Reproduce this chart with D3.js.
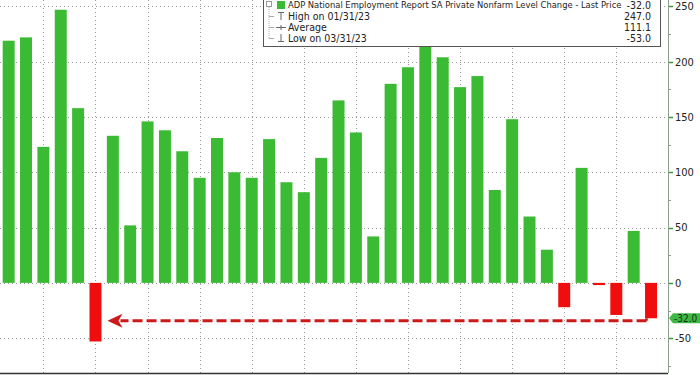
<!DOCTYPE html>
<html>
<head>
<meta charset="utf-8">
<script src="https://cdn.jsdelivr.net/npm/d3@7"></script>
<style>
  body { margin: 0; background: #fff; }
  svg { display: block; }
  text { font-family: "Liberation Sans Narrow", "DejaVu Sans Condensed", "Liberation Sans", sans-serif; }
</style>
</head>
<body>
<div id="chart"></div>
<script>
// monthly ADP private payroll change, thousands (Oct 2022 - Nov 2025)
var months = ["2022-10","2022-11","2022-12","2023-01","2023-02","2023-03","2023-04","2023-05","2023-06","2023-07",
  "2023-08","2023-09","2023-10","2023-11","2023-12","2024-01","2024-02","2024-03","2024-04","2024-05",
  "2024-06","2024-07","2024-08","2024-09","2024-10","2024-11","2024-12","2025-01","2025-02","2025-03",
  "2025-04","2025-05","2025-06","2025-07","2025-08","2025-09","2025-10","2025-11"];
var changes = [219, 222, 123, 247, 158, -53, 133, 52, 146, 138,
  119, 95, 131, 100, 95, 130, 91, 82, 113, 165,
  136, 42, 180, 195, 222, 204, 177, 187, 84, 148,
  60, 30, -22, 104, -2, -29, 47, -32];
var yTicks = [-50, 0, 50, 100, 150, 200, 250];
var legendRows = [
  {label: "ADP National Employment Report SA Private Nonfarm Level Change - Last Price", value: "-32.0"},
  {label: "High on 01/31/23", value: "247.0"},
  {label: "Average", value: "111.1"},
  {label: "Low on 03/31/23", value: "-53.0"}
];
var lastLabel = "-32.0";

var width = 700, height = 375;
var plotRight = 668, plotBottom = 373;

var svg = d3.select("#chart").append("svg")
  .attr("width", width)
  .attr("height", height);

var x = d3.scaleBand()
  .domain(months)
  .range([-2.7, 662.4])
  .padding(0.31);

var y = d3.scaleLinear()
  .domain([-81.5, 255.8])
  .range([plotBottom, 0]);

var green = "#3bba34", red = "#f00d0d";

// grid
var grid = svg.append("g").attr("class", "grid");
grid.selectAll("line.h")
  .data(yTicks)
  .enter().append("line")
  .attr("class", "h")
  .attr("x1", 0).attr("x2", plotRight)
  .attr("y1", function(d) { return Math.round(y(d)) + 0.5; })
  .attr("y2", function(d) { return Math.round(y(d)) + 0.5; })
  .attr("stroke", "#9a9a9a")
  .attr("stroke-dasharray", "1,3");

// quarter-end months get a vertical grid line
var quarterEnds = months.filter(function(m) { return +m.slice(5) % 3 === 0; });
grid.selectAll("line.v")
  .data(quarterEnds)
  .enter().append("line")
  .attr("class", "v")
  .attr("y1", 0).attr("y2", plotBottom)
  .attr("x1", function(d) { return Math.round(x(d) + x.bandwidth() / 2) + 0.5; })
  .attr("x2", function(d) { return Math.round(x(d) + x.bandwidth() / 2) + 0.5; })
  .attr("stroke", "#9a9a9a")
  .attr("stroke-dasharray", "1,3");

// bars
svg.append("g").selectAll("rect")
  .data(changes)
  .enter().append("rect")
  .attr("x", function(d, i) { return x(months[i]); })
  .attr("width", x.bandwidth())
  .attr("y", function(d) { return y(Math.max(0, d)); })
  .attr("height", function(d) { return Math.max(1.5, Math.abs(y(d) - y(0))); })
  .attr("fill", function(d) { return d < 0 ? red : green; });

// dashed arrow from latest print back to the prior low
var lastIdx = changes.length - 1;
var lowIdx = changes.indexOf(d3.min(changes));
var arrowY = y(changes[lastIdx]) + 2.5;
var arrowStart = x(months[lastIdx]) + 1.5;
var arrowTip = x(months[lowIdx]) + x.bandwidth() + 6;
svg.append("line")
  .attr("x1", arrowStart).attr("x2", arrowStart)
  .attr("y1", y(changes[lastIdx])).attr("y2", arrowY)
  .attr("stroke", "#cc1a1a").attr("stroke-width", 2.5);
svg.append("line")
  .attr("x1", arrowStart).attr("x2", arrowTip + 13)
  .attr("y1", arrowY).attr("y2", arrowY)
  .attr("stroke", "#cc1a1a")
  .attr("stroke-width", 3)
  .attr("stroke-dasharray", "10,4");
svg.append("path")
  .attr("d", "M" + arrowTip + "," + arrowY + " L" + (arrowTip + 15) + "," + (arrowY - 7) +
    " L" + (arrowTip + 11) + "," + arrowY + " L" + (arrowTip + 15) + "," + (arrowY + 7) + "Z")
  .attr("fill", "#cc1a1a");

// frame
svg.append("line")
  .attr("x1", 0).attr("x2", plotRight)
  .attr("y1", plotBottom + 0.5).attr("y2", plotBottom + 0.5)
  .attr("stroke", "#333").attr("stroke-width", 1.5);

// right axis
var axis = svg.append("g").attr("transform", "translate(" + plotRight + ",0)");
axis.append("line")
  .attr("x1", 0.5).attr("x2", 0.5).attr("y1", 0).attr("y2", plotBottom)
  .attr("stroke", "#8aa08a");
var minor = d3.range(-75, 260, 25).filter(function(v) { return v % 50 !== 0; });
axis.selectAll("line.minor")
  .data(minor)
  .enter().append("line")
  .attr("class", "minor")
  .attr("x1", 1).attr("x2", 3)
  .attr("y1", function(d) { return Math.round(y(d)) + 0.5; })
  .attr("y2", function(d) { return Math.round(y(d)) + 0.5; })
  .attr("stroke", "#999");
axis.selectAll("line.major")
  .data(yTicks)
  .enter().append("line")
  .attr("class", "major")
  .attr("x1", 1).attr("x2", 5)
  .attr("y1", function(d) { return Math.round(y(d)) + 0.5; })
  .attr("y2", function(d) { return Math.round(y(d)) + 0.5; })
  .attr("stroke", "#3a9a3a").attr("stroke-width", 1.5);
axis.selectAll("text")
  .data(yTicks)
  .enter().append("text")
  .attr("x", 7)
  .attr("y", function(d) { return y(d); })
  .attr("dy", "0.35em")
  .style("font-size", "11px")
  .style("fill", "#222")
  .text(function(d) { return d; });

// last price tag
var tagY = y(changes[lastIdx]);
svg.append("path")
  .attr("d", "M" + (plotRight + 1) + "," + tagY + " L" + (plotRight + 5) + "," + (tagY - 5) +
    " L" + width + "," + (tagY - 5) + " L" + width + "," + (tagY + 5) + " L" + (plotRight + 5) + "," + (tagY + 5) + "Z")
  .attr("fill", "#3fb845");
svg.append("text")
  .attr("x", plotRight + 6)
  .attr("y", tagY)
  .attr("dy", "0.36em")
  .style("font-size", "10px")
  .style("fill", "#173317")
  .text(lastLabel);

// legend
var lg = svg.append("g");
lg.append("rect")
  .attr("x", 263.5).attr("y", -5.5)
  .attr("width", 397).attr("height", 52)
  .attr("fill", "#fff")
  .attr("stroke", "#555");
var rowY = [5, 16, 27, 38];
// tree lines
lg.append("rect").attr("x", 266.5).attr("y", 1.5).attr("width", 5).attr("height", 5)
  .attr("fill", "#fff").attr("stroke", "#999");
lg.append("line").attr("x1", 269).attr("x2", 269).attr("y1", 7).attr("y2", rowY[3])
  .attr("stroke", "#aaa").attr("stroke-dasharray", "1,1");
lg.selectAll("line.branch")
  .data(rowY.slice(1))
  .enter().append("line")
  .attr("class", "branch")
  .attr("x1", 269).attr("x2", 274)
  .attr("y1", function(d) { return d + 0.5; }).attr("y2", function(d) { return d + 0.5; })
  .attr("stroke", "#aaa");
lg.append("rect").attr("x", 277).attr("y", 1).attr("width", 8).attr("height", 8).attr("fill", green);
// high / avg / low glyphs
lg.append("path").attr("d", "M278,12.5 H284 M281,12.5 V20")
  .attr("stroke", "#666").attr("fill", "none");
lg.append("path").attr("d", "M276,27.5 H286 M281,25 V30")
  .attr("stroke", "#666").attr("fill", "none");
lg.append("path").attr("d", "M281,34 V41.5 M278,41.5 H284")
  .attr("stroke", "#666").attr("fill", "none");

lg.selectAll("text.lab")
  .data(legendRows)
  .enter().append("text")
  .attr("class", "lab")
  .attr("x", 288)
  .attr("y", function(d, i) { return rowY[i]; })
  .attr("dy", "0.35em")
  .style("font-size", function(d, i) { return i === 0 ? "9.3px" : "10.5px"; })
  .style("fill", "#222")
  .text(function(d) { return d.label; });
lg.selectAll("text.val")
  .data(legendRows)
  .enter().append("text")
  .attr("class", "val")
  .attr("x", 651)
  .attr("y", function(d, i) { return rowY[i]; })
  .attr("dy", "0.35em")
  .attr("text-anchor", "end")
  .style("font-size", "10.5px")
  .style("fill", "#222")
  .text(function(d) { return d.value; });
</script>
</body>
</html>
